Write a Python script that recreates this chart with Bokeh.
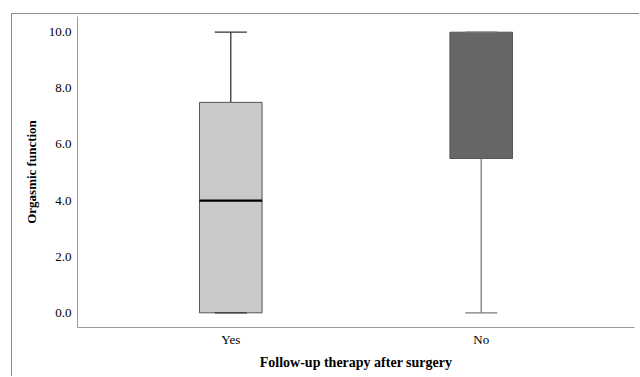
from bokeh.plotting import figure
from bokeh.models import Range1d, FixedTicker, ColumnDataSource, NumeralTickFormatter
from bokeh.embed import file_html
from bokeh.resources import INLINE

# ---- data ----
groups = ["Yes", "No"]
lower = [0.0, 0.0]
q1 = [0.0, 5.5]
median = [4.0, 10.0]
q3 = [7.5, 10.0]
upper = [10.0, 10.0]
y_ticks = [0, 2, 4, 6, 8, 10]

# ---- styles ----
box_fill = ["#c9c9c9", "#666666"]
whisker_color = ["#333333", "#7a7a7a"]
FONT = "Liberation Serif"
BOX_W = 0.25
CAP_W = 0.128

xs = list(range(len(groups)))

p = figure(width=628, height=363, output_backend="svg", toolbar_location=None,
           x_range=Range1d(-0.612, 1.612), y_range=Range1d(-0.524, 10.56),
           min_border_left=65, min_border_right=6, min_border_top=2,
           min_border_bottom=50,
           margin=(13, 0, 0, 11),
           styles={"border-top": "1px solid #8c8c8c", "border-left": "1px solid #8c8c8c"})
p.outline_line_color = None
p.xgrid.visible = False
p.ygrid.visible = False

src = ColumnDataSource(dict(
    x=xs, lower=lower, q1=q1, med=median, q3=q3, upper=upper,
    fill=box_fill, wc=whisker_color,
    cl=[x - CAP_W / 2 for x in xs], cr=[x + CAP_W / 2 for x in xs],
))

# whiskers
p.segment(x0="x", y0="q3", x1="x", y1="upper", line_color="wc", line_width=1.3, source=src)
p.segment(x0="x", y0="q1", x1="x", y1="lower", line_color="wc", line_width=1.3, source=src)
# boxes
p.vbar(x="x", width=BOX_W, top="q3", bottom="q1", fill_color="fill",
       line_color="#555555", line_width=1, source=src)
# medians (only where visible inside the box)
mx = [x for x, m, a, b in zip(xs, median, q1, q3) if a < m < b]
my = [m for m, a, b in zip(median, q1, q3) if a < m < b]
p.segment(x0=[x - BOX_W / 2 for x in mx], y0=my, x1=[x + BOX_W / 2 for x in mx], y1=my,
          line_color="#000000", line_width=2.2)
# caps
p.segment(x0="cl", y0="upper", x1="cr", y1="upper", line_color="wc", line_width=1.3, source=src)
p.segment(x0="cl", y0="lower", x1="cr", y1="lower", line_color="wc", line_width=1.3, source=src)

# axes
for ax in (p.xaxis[0], p.yaxis[0]):
    ax.axis_line_color = "#9a9a9a"
    ax.major_tick_line_color = None
    ax.minor_tick_line_color = None
    ax.major_tick_out = 0
    ax.major_tick_in = 0
    ax.minor_tick_out = 0
    ax.minor_tick_in = 0
    ax.major_label_text_font = FONT
    ax.major_label_text_font_size = "13px"
    ax.major_label_text_color = "#000000"
    ax.axis_label_text_font = FONT
    ax.axis_label_text_font_style = "bold"
    ax.axis_label_text_color = "#000000"

p.xaxis.ticker = FixedTicker(ticks=xs)
p.xaxis.major_label_overrides = {x: g for x, g in zip(xs, groups)}
p.xaxis.axis_label = "Follow-up therapy after surgery"
p.xaxis.axis_label_text_font_size = "14px"
p.xaxis.major_label_standoff = 4
p.xaxis.axis_label_standoff = 5

p.yaxis.ticker = FixedTicker(ticks=y_ticks)
p.yaxis.formatter = NumeralTickFormatter(format="0.0")
p.yaxis.axis_label = "Orgasmic function"
p.yaxis.axis_label_text_font_size = "13px"
p.yaxis.major_label_standoff = 6
p.yaxis.axis_label_standoff = 7

open("out.html", "w").write(file_html(p, INLINE))
